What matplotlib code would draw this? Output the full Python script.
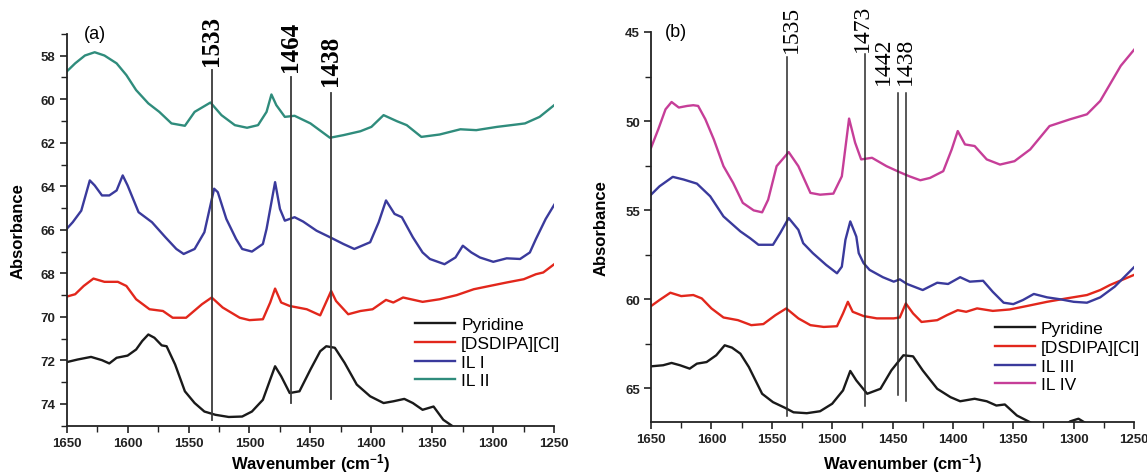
import matplotlib
matplotlib.use('Agg')
import matplotlib.pyplot as plt
from matplotlib.ticker import MultipleLocator

plt.rcParams['font.family'] = ['Liberation Sans', 'DejaVu Sans']
plt.rcParams['mathtext.fontset'] = 'custom'
plt.rcParams['mathtext.rm'] = 'Liberation Sans:bold'
plt.rcParams['mathtext.it'] = 'Liberation Sans:bold'
plt.rcParams['mathtext.bf'] = 'Liberation Sans:bold'

# ---- panel (a) spectra (wavenumber, absorbance) ----
a_pyr_wn = [1650, 1641, 1630, 1621, 1615, 1609, 1600, 1593, 1588, 1583, 1578, 1572, 1568, 1561, 1553,
            1545, 1537, 1528, 1517, 1506, 1498, 1489, 1483, 1479, 1474, 1467, 1459, 1450, 1442, 1437,
            1430, 1422, 1412, 1401, 1390, 1382, 1373, 1366, 1358, 1349, 1341, 1334, 1325]
a_pyr_ab = [72.08, 71.96, 71.84, 71.99, 72.14, 71.88, 71.78, 71.5, 71.11, 70.81, 70.96, 71.31, 71.35, 72.19, 73.42,
            73.96, 74.35, 74.5, 74.6, 74.58, 74.35, 73.81, 72.88, 72.27, 72.73, 73.5, 73.42, 72.42, 71.58, 71.35,
            71.42, 72.11, 73.11, 73.65, 73.96, 73.88, 73.77, 73.96, 74.27, 74.12, 74.73, 75.0, 75.5]

a_dsd_wn = [1650, 1643, 1636, 1628, 1619, 1608, 1601, 1593, 1582, 1571, 1563, 1552, 1539, 1531, 1522,
            1508, 1500, 1489, 1483, 1479, 1474, 1467, 1453, 1442, 1433, 1429, 1419, 1409, 1399, 1388,
            1382, 1374, 1358, 1344, 1330, 1316, 1303, 1289, 1275, 1265, 1259, 1250]
a_dsd_ab = [69.07, 68.96, 68.58, 68.24, 68.39, 68.39, 68.58, 69.19, 69.65, 69.73, 70.04, 70.04, 69.42, 69.11, 69.57,
            70.04, 70.15, 70.11, 69.34, 68.7, 69.34, 69.5, 69.65, 69.93, 68.81, 69.27, 69.88, 69.73, 69.65, 69.22,
            69.34, 69.11, 69.31, 69.19, 69.0, 68.73, 68.58, 68.42, 68.27, 68.04, 67.96, 67.58]

a_il1_wn = [1650, 1645, 1638, 1631, 1627, 1621, 1615, 1609, 1604, 1600, 1591, 1580, 1569, 1560, 1554,
            1545, 1537, 1529, 1526, 1519, 1511, 1506, 1498, 1489, 1486, 1479, 1475, 1471, 1463, 1456,
            1445, 1434, 1423, 1414, 1401, 1394, 1388, 1381, 1375, 1366, 1358, 1352, 1340, 1331, 1325,
            1318, 1311, 1300, 1289, 1278, 1270, 1265, 1257, 1250]
a_il1_ab = [65.96, 65.65, 65.12, 63.73, 63.96, 64.42, 64.42, 64.19, 63.5, 63.96, 65.19, 65.65, 66.34, 66.88, 67.11,
            66.88, 66.11, 64.11, 64.27, 65.5, 66.42, 66.88, 67.0, 66.65, 65.96, 63.81, 65.04, 65.58, 65.42, 65.62,
            66.04, 66.34, 66.65, 66.88, 66.57, 65.65, 64.65, 65.27, 65.42, 66.34, 67.04, 67.34, 67.58, 67.27, 66.73,
            67.04, 67.27, 67.47, 67.31, 67.34, 67.04, 66.42, 65.5, 64.85]

a_il2_wn = [1650, 1643, 1635, 1627, 1619, 1609, 1601, 1593, 1583, 1574, 1564, 1553, 1545, 1532, 1523,
            1512, 1502, 1493, 1486, 1482, 1478, 1471, 1463, 1450, 1434, 1423, 1409, 1400, 1390, 1379,
            1371, 1359, 1344, 1327, 1314, 1297, 1281, 1274, 1262, 1250]
a_il2_ab = [58.73, 58.35, 57.99, 57.84, 57.99, 58.35, 58.89, 59.58, 60.19, 60.58, 61.11, 61.22, 60.58, 60.15, 60.73,
            61.19, 61.31, 61.19, 60.58, 59.78, 60.27, 60.81, 60.76, 61.11, 61.77, 61.65, 61.47, 61.27, 60.73, 61.01,
            61.19, 61.73, 61.62, 61.38, 61.42, 61.27, 61.16, 61.11, 60.81, 60.27]

# ---- panel (b) spectra ----
b_pyr_wn = [1650, 1640, 1633, 1626, 1618, 1612, 1604, 1596, 1589, 1583, 1576, 1569, 1558, 1549, 1539,
            1532, 1521, 1510, 1500, 1491, 1485, 1480, 1471, 1460, 1451, 1441, 1433, 1425, 1413, 1402,
            1394, 1382, 1372, 1364, 1357, 1347, 1336, 1328, 1310, 1303, 1296, 1289, 1280]
b_pyr_ab = [63.76, 63.7, 63.57, 63.7, 63.89, 63.61, 63.52, 63.14, 62.58, 62.71, 63.05, 63.8, 65.3, 65.77, 66.09,
            66.34, 66.39, 66.28, 65.86, 65.11, 64.02, 64.55, 65.3, 65.02, 63.99, 63.14, 63.2, 63.99, 65.02, 65.49,
            65.72, 65.58, 65.72, 65.96, 65.9, 66.52, 66.9, 67.3, 67.3, 66.85, 66.7, 66.99, 67.4]

b_dsd_wn = [1650, 1643, 1634, 1625, 1615, 1608, 1600, 1590, 1578, 1567, 1557, 1547, 1538, 1528, 1518,
            1507, 1496, 1491, 1487, 1483, 1474, 1463, 1449, 1444, 1439, 1433, 1426, 1413, 1405, 1396,
            1389, 1380, 1367, 1353, 1339, 1322, 1306, 1289, 1278, 1270, 1250]
b_dsd_ab = [60.38, 60.04, 59.63, 59.82, 59.76, 59.95, 60.51, 61.02, 61.17, 61.45, 61.39, 60.89, 60.51, 61.07, 61.45,
            61.55, 61.51, 60.79, 60.14, 60.7, 60.94, 61.07, 61.07, 61.02, 60.23, 60.79, 61.27, 61.17, 60.89, 60.61,
            60.7, 60.51, 60.65, 60.57, 60.38, 60.14, 59.95, 59.76, 59.48, 59.2, 58.63]

b_il3_wn = [1650, 1643, 1632, 1623, 1612, 1601, 1590, 1576, 1568, 1561, 1549, 1543, 1536, 1528, 1524,
            1516, 1505, 1496, 1492, 1489, 1485, 1480, 1478, 1474, 1469, 1458, 1449, 1444, 1438, 1425,
            1413, 1404, 1394, 1386, 1375, 1367, 1358, 1350, 1342, 1333, 1322, 1311, 1300, 1289, 1278,
            1266, 1250]
b_il3_ab = [54.13, 53.66, 53.13, 53.28, 53.51, 54.22, 55.35, 56.19, 56.57, 56.94, 56.94, 56.28, 55.44, 56.1, 56.85,
            57.41, 58.07, 58.54, 58.17, 56.66, 55.63, 56.48, 57.41, 57.97, 58.35, 58.76, 59.01, 58.88, 59.14, 59.48,
            59.07, 59.14, 58.76, 59.01, 58.96, 59.58, 60.19, 60.27, 60.04, 59.7, 59.89, 60.0, 60.14, 60.19, 59.89,
            59.29, 58.2]

b_il4_wn = [1650, 1644, 1638, 1633, 1627, 1620, 1615, 1611, 1605, 1598, 1590, 1582, 1574, 1565, 1558,
            1553, 1546, 1536, 1528, 1518, 1510, 1499, 1492, 1486, 1481, 1476, 1467, 1455, 1444, 1436,
            1427, 1419, 1408, 1401, 1396, 1390, 1382, 1372, 1361, 1349, 1336, 1320, 1303, 1289, 1278,
            1261, 1250]
b_il4_ab = [51.5, 50.46, 49.34, 48.93, 49.24, 49.15, 49.11, 49.15, 49.9, 51.03, 52.53, 53.47, 54.59, 55.01, 55.12,
            54.41, 52.53, 51.74, 52.53, 54.03, 54.13, 54.07, 53.1, 49.86, 51.21, 52.15, 52.06, 52.53, 52.87, 53.1,
            53.32, 53.19, 52.81, 51.59, 50.56, 51.31, 51.4, 52.15, 52.44, 52.25, 51.59, 50.28, 49.9, 49.62, 48.87,
            46.9, 46.0]

# marker lines: label, line position, line top, line bottom, label x
a_mark_text = ['1533', '1464', '1438']
a_mark_wn = [1531, 1466, 1433.4]
a_mark_top = [58.66, 58.99, 59.73]
a_mark_bot = [74.73, 73.96, 73.77]
a_text_wn = [1531, 1466, 1433.4]
a_text_y = [58.42, 58.72, 59.36]

b_mark_text = ['1535', '1473', '1442', '1438']
b_mark_wn = [1537, 1472.8, 1445.2, 1439.1]
b_mark_top = [46.43, 46.24, 48.4, 48.4]
b_mark_bot = [66.52, 66.01, 65.39, 65.68]
b_text_wn = [1534, 1475.3, 1457.6, 1439]
b_text_y = [46.14, 46.07, 47.93, 47.93]

c_pyr = '#1a1a1a'
c_dsd = '#e2271c'
c_il1 = '#3a3a9c'
c_il2 = '#2f8c7c'
c_il4 = '#c63e98'

fig = plt.figure(figsize=(11.47, 4.77), dpi=100)
ax1 = fig.add_axes([0.0581, 0.1055, 0.4251, 0.8212])
ax2 = fig.add_axes([0.5676, 0.1126, 0.4211, 0.8183])

lw = 1.7
ax1.plot(a_pyr_wn, a_pyr_ab, color=c_pyr, lw=lw, label='Pyridine')
ax1.plot(a_dsd_wn, a_dsd_ab, color=c_dsd, lw=lw, label='[DSDIPA][Cl]')
ax1.plot(a_il1_wn, a_il1_ab, color=c_il1, lw=lw, label='IL I')
ax1.plot(a_il2_wn, a_il2_ab, color=c_il2, lw=lw, label='IL II')

ax2.plot(b_pyr_wn, b_pyr_ab, color=c_pyr, lw=lw, label='Pyridine')
ax2.plot(b_dsd_wn, b_dsd_ab, color=c_dsd, lw=lw, label='[DSDIPA][Cl]')
ax2.plot(b_il3_wn, b_il3_ab, color=c_il1, lw=lw, label='IL III')
ax2.plot(b_il4_wn, b_il4_ab, color=c_il4, lw=lw, label='IL IV')

for i in range(len(a_mark_text)):
    ax1.plot([a_mark_wn[i], a_mark_wn[i]], [a_mark_top[i], a_mark_bot[i]], color='#3a3a3a', lw=1.3)
    ax1.text(a_text_wn[i], a_text_y[i], a_mark_text[i], rotation=90, ha='center', va='bottom',
             family='Liberation Serif', fontweight='bold', fontsize=18, clip_on=False)
for i in range(len(b_mark_text)):
    ax2.plot([b_mark_wn[i], b_mark_wn[i]], [b_mark_top[i], b_mark_bot[i]], color='#2a2a2a', lw=1.1)
    ax2.text(b_text_wn[i], b_text_y[i], b_mark_text[i], rotation=90, ha='center', va='bottom',
             family='Liberation Serif', fontsize=17, clip_on=False)

ax1.set_xlim(1650, 1250)
ax1.set_ylim(75, 57)
ax1.yaxis.set_major_locator(MultipleLocator(2))
ax1.yaxis.set_minor_locator(MultipleLocator(1))
ax1.set_yticks(range(58, 75, 2))

ax2.set_xlim(1650, 1250)
ax2.set_ylim(66.9, 45)
ax2.yaxis.set_major_locator(MultipleLocator(5))
ax2.yaxis.set_minor_locator(MultipleLocator(2.5))

for ax, lab, lx in [(ax1, '(a)', 0.035), (ax2, '(b)', 0.029)]:
    ax.xaxis.set_major_locator(MultipleLocator(50))
    ax.xaxis.set_minor_locator(MultipleLocator(25))
    for s in ['top', 'right']:
        ax.spines[s].set_visible(False)
    for s in ['left', 'bottom']:
        ax.spines[s].set_linewidth(1.3)
        ax.spines[s].set_color('#222222')
    ax.tick_params(which='major', direction='out', length=5, width=1.2, pad=3, labelsize=9.5, colors='#222222')
    ax.tick_params(which='minor', direction='out', length=4, width=1.0, colors='#222222')
    for t in ax.get_xticklabels() + ax.get_yticklabels():
        t.set_fontweight('bold')
    ax.set_ylabel('Absorbance', fontweight='bold', fontsize=12)
    ax.set_xlabel('Wavenumber (cm$^{-1}$)', fontweight='bold', fontsize=12)
    ax.text(lx, 1.0, lab, transform=ax.transAxes, ha='left', va='center', fontsize=13, clip_on=False)

ax1.yaxis.set_label_coords(-0.084, 0.5)
ax2.yaxis.set_label_coords(-0.087, 0.5)
ax1.xaxis.set_label_coords(0.5, -0.065)
ax2.xaxis.set_label_coords(0.52, -0.074)

ax1.legend(loc='center left', bbox_to_anchor=(0.697, 0.186), frameon=False, fontsize=12.5,
           borderpad=0, handlelength=2.3, handletextpad=0.35, labelspacing=0.2)
ax2.legend(loc='center left', bbox_to_anchor=(0.695, 0.168), frameon=False, fontsize=12.5,
           borderpad=0, handlelength=2.3, handletextpad=0.3, labelspacing=0.2)

fig.savefig('out.png', dpi=100)
